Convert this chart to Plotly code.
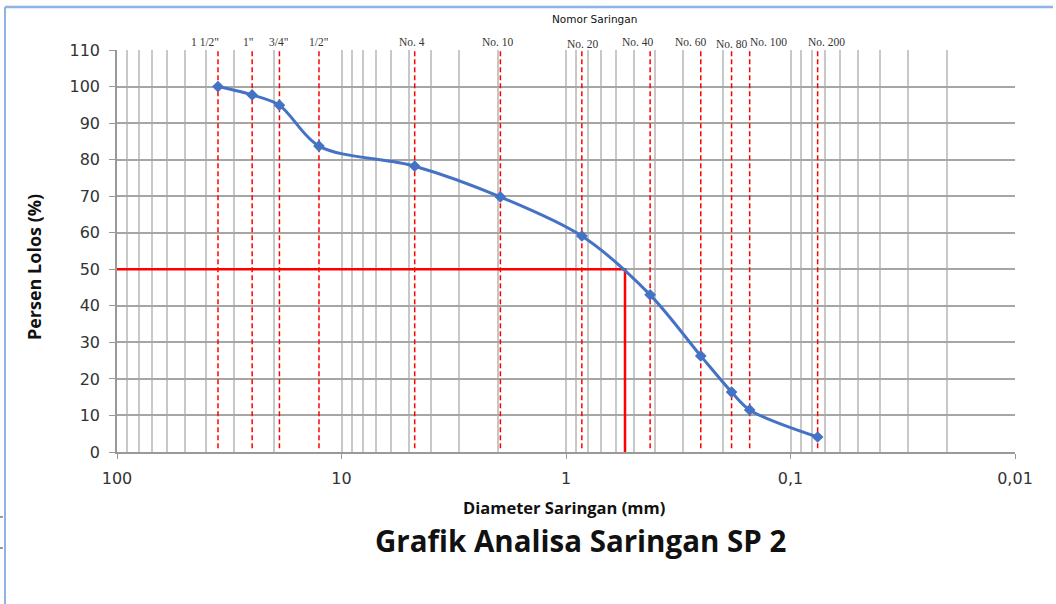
import numpy as np
import plotly.graph_objects as go

# ---- data ----
sieve_labels = ['1 1/2"', '1"', '3/4"', '1/2"', 'No. 4', 'No. 10', 'No. 20',
                'No. 40', 'No. 60', 'No. 80', 'No. 100', 'No. 200']
sieve_mm = [35.5, 25.0, 18.9, 12.6, 4.72, 1.96, 0.85, 0.422, 0.251, 0.183, 0.152, 0.0757]
percent_passing = [100.0, 97.7, 94.9, 83.7, 78.2, 69.8, 59.1, 43.0, 26.3, 16.4, 11.5, 4.1]
d50_mm = 0.546
d50_pct = 50
x_tick_vals = [100, 10, 1, 0.1, 0.01]
x_tick_text = ["100", "10", "1", "0,1", "0,01"]
label_xshift = [-13, -4, -1, 0, -3, -2, 1, -12, -10, 0, 19, 9]
label_yshift = [0, 0, 0, 0, 0, 0, -2, 0, 0, -2, 0, 0]

fig = go.Figure()

# dashed sieve lines
dx, dy = [], []
for s in sieve_mm:
    dx += [s, s, None]
    dy += [1, 110, None]
fig.add_trace(go.Scatter(x=dx, y=dy, mode="lines",
                         line=dict(color="#FF0000", width=1.5, dash="5px,3px"),
                         hoverinfo="skip", showlegend=False))

# D50 lines
fig.add_trace(go.Scatter(x=[100, d50_mm, d50_mm], y=[d50_pct, d50_pct, 0], mode="lines",
                         line=dict(color="#FF0000", width=2.5),
                         showlegend=False))

# gradation curve
fig.add_trace(go.Scatter(x=sieve_mm, y=percent_passing, mode="lines+markers",
                         line=dict(color="#4472C4", width=3, shape="spline", smoothing=0.9),
                         marker=dict(symbol="diamond", size=9, color="#4472C4"),
                         showlegend=False))

# sieve labels on top (log axis annotations use log10 coordinates)
for lab, s, xs, ys in zip(sieve_labels, sieve_mm, label_xshift, label_yshift):
    fig.add_annotation(x=float(np.log10(s)), y=1, xref="x", yref="paper", text=lab,
                       showarrow=False, yanchor="bottom", xanchor="center",
                       xshift=xs, yshift=ys,
                       font=dict(family="Liberation Serif", size=11.5, color="#333333"))

fig.add_annotation(x=0.532, y=1.077, xref="paper", yref="paper", text="Nomor Saringan",
                   showarrow=False, xanchor="center", yanchor="middle",
                   font=dict(family="DejaVu Sans", size=10.5, color="#111111"))

fig.add_annotation(x=-0.0924, y=0.46, xref="paper", yref="paper",
                   text="<b>Persen Lolos (%)</b>", textangle=-90, showarrow=False,
                   xanchor="center", yanchor="middle",
                   font=dict(family="Open Sans", size=18, color="#111111"))

fig.add_annotation(x=0.498, y=-0.137, xref="paper", yref="paper",
                   text="<b>Diameter Saringan (mm)</b>", showarrow=False,
                   xanchor="center", yanchor="middle",
                   font=dict(family="Open Sans", size=16.5, color="#111111"))

fig.add_annotation(x=0.516, y=-0.221, xref="paper", yref="paper",
                   text="<b>Grafik Analisa Saringan SP 2</b>", showarrow=False,
                   xanchor="center", yanchor="middle",
                   font=dict(family="Open Sans", size=29.5, color="#111111"))

# frame decorations (screenshot borders)
fig.add_shape(type="line", xref="paper", yref="paper", x0=-0.1247, x1=1.0423, y0=1.107, y1=1.107,
              line=dict(color="#8DB4E2", width=2.5), layer="above")
fig.add_shape(type="line", xref="paper", yref="paper", x0=-0.1247, x1=-0.1247, y0=1.107, y1=-0.4,
              line=dict(color="#8DB4E2", width=2))
for yy in [-0.1616, -0.2388]:
    fig.add_shape(type="line", xref="paper", yref="paper", x0=-0.1303, x1=-0.127, y0=yy, y1=yy,
                  line=dict(color="#333333", width=1))

fig.update_layout(
    width=1056, height=604,
    margin=dict(l=117, r=41, t=50, b=152),
    paper_bgcolor="white", plot_bgcolor="white",
    font=dict(family="DejaVu Sans", color="#333333"),
    xaxis=dict(type="log", range=[2, -2], tickvals=x_tick_vals, ticktext=x_tick_text,
               showgrid=True, gridcolor="#C8C8C8", gridwidth=1.5,
               minor=dict(dtick="D1", showgrid=True, gridcolor="#C8C8C8", gridwidth=1.5, ticks=""),
               ticks="outside", ticklen=5, tickcolor="#999999",
               showline=True, linecolor="#999999", linewidth=1.5, mirror=False,
               tickfont=dict(size=16, color="#333333", family="DejaVu Sans"),
               ticklabelstandoff=6, zeroline=False),
    yaxis=dict(range=[0, 110], dtick=10, tick0=0,
               showgrid=True, gridcolor="#A6A6A6", gridwidth=1.5,
               ticks="outside", ticklen=6, tickcolor="#999999",
               showline=True, linecolor="#999999", linewidth=1.5,
               tickfont=dict(size=16, color="#333333", family="DejaVu Sans"),
               ticklabelstandoff=6, zeroline=False),
)

fig.write_html("out.html", config={"displayModeBar": False},
               post_script="document.body.style.margin='0';")
